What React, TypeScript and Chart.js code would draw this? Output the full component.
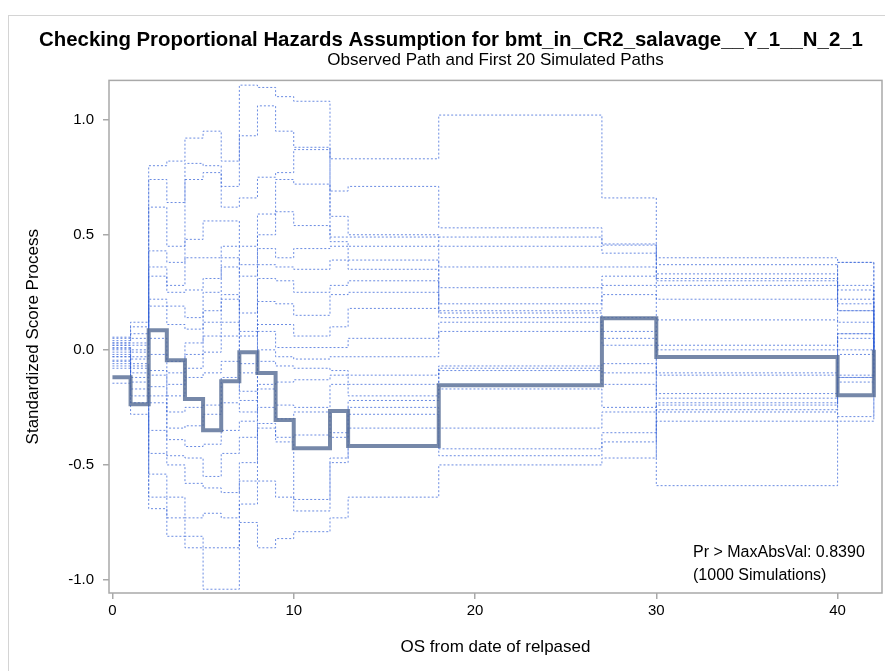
import React, { useEffect, useRef } from "react";
import { Chart, registerables } from "chart.js";

Chart.register(...registerables);

// Event times (jump points) of the score process
const times = [0, 1, 2, 3, 4, 5, 6, 7, 8, 9, 10, 12, 13, 18, 27, 30, 40, 42];
// value reached at the final time
const endValue = 0;

// Observed path: value held on each interval [times[i], times[i+1])
const observed = [-0.119, -0.236, 0.085, -0.045, -0.214, -0.349, -0.136, -0.01, -0.101, -0.305, -0.427, -0.266, -0.418, -0.154, 0.137, -0.031, -0.197];

// First 20 simulated paths
const sim01 = [0.055, 0.12, 0.8, 0.82, 0.92, 0.95, 0.82, 1.15, 1.14, 1.1, 1.08, 0.83, 0.83, 1.02, 0.66, -0.59, 0.38];
const sim02 = [0.05, 0.1, 0.74, 0.64, 0.81, 0.8, 0.71, 0.93, 1.06, 0.95, 0.88, 0.69, 0.71, 0.53, 0.46, 0.4, 0.38];
const sim03 = [0.04, 0.07, 0.62, 0.45, 0.74, 0.77, 0.62, 0.66, 0.75, 0.77, 0.87, 0.58, 0.5, 0.49, 0.455, 0.37, 0.28];
const sim04 = [0.03, 0.05, 0.43, 0.38, 0.48, 0.56, 0.56, 0.45, 0.59, 0.74, 0.72, 0.49, 0.49, 0.45, 0.42, 0.33, 0.26];
const sim05 = [0.03, 0.03, 0.36, 0.28, 0.4, 0.4, 0.45, 0.37, 0.5, 0.6, 0.54, 0.47, 0.45, 0.36, 0.36, 0.31, 0.22];
const sim06 = [0.02, 0.02, 0.32, 0.25, 0.26, 0.31, 0.4, 0.32, 0.44, 0.4, 0.44, 0.45, 0.39, 0.27, 0.32, 0.3, 0.2];
const sim07 = [0.02, 0.0, 0.22, 0.19, 0.14, 0.25, 0.36, 0.16, 0.37, 0.36, 0.35, 0.39, 0.35, 0.2, 0.28, 0.28, 0.17];
const sim08 = [0.01, -0.01, 0.19, 0.11, 0.09, 0.17, 0.24, 0.08, 0.31, 0.3, 0.25, 0.28, 0.3, 0.17, 0.24, 0.22, 0.17];
const sim09 = [0.005, -0.03, 0.05, -0.05, 0.03, 0.12, 0.22, 0.06, 0.21, 0.2, 0.15, 0.24, 0.25, 0.16, 0.14, 0.13, 0.12];
const sim10 = [0.0, -0.04, -0.02, -0.1, -0.02, 0.06, 0.12, -0.06, 0.11, 0.11, 0.06, 0.1, 0.18, 0.14, 0.08, 0.02, 0.07];
const sim11 = [-0.01, -0.06, -0.09, -0.15, -0.08, -0.01, 0.06, -0.1, 0.08, 0.01, 0.01, 0.01, 0.05, 0.12, 0.05, 0.0, 0.07];
const sim12 = [-0.02, -0.07, -0.11, -0.2, -0.12, -0.1, -0.05, -0.18, 0.0, -0.03, -0.04, -0.03, -0.03, 0.08, 0.02, -0.1, 0.05];
const sim13 = [-0.03, -0.08, -0.16, -0.27, -0.25, -0.24, -0.12, -0.22, -0.05, -0.07, -0.08, -0.09, -0.11, -0.07, -0.06, -0.11, 0.0];
const sim14 = [-0.03, -0.1, -0.2, -0.34, -0.33, -0.28, -0.23, -0.27, -0.15, -0.14, -0.13, -0.11, -0.15, -0.08, -0.1, -0.19, -0.02];
const sim15 = [-0.045, -0.12, -0.23, -0.39, -0.42, -0.41, -0.35, -0.31, -0.17, -0.24, -0.25, -0.15, -0.2, -0.09, -0.15, -0.21, -0.11];
const sim16 = [-0.05, -0.14, -0.35, -0.46, -0.47, -0.55, -0.45, -0.38, -0.25, -0.3, -0.27, -0.36, -0.22, -0.17, -0.25, -0.23, -0.12];
const sim17 = [-0.06, -0.17, -0.45, -0.5, -0.58, -0.6, -0.62, -0.49, -0.32, -0.38, -0.37, -0.38, -0.25, -0.34, -0.27, -0.24, -0.12];
const sim18 = [-0.07, -0.2, -0.54, -0.64, -0.73, -0.71, -0.73, -0.57, -0.34, -0.4, -0.65, -0.47, -0.28, -0.43, -0.36, -0.26, -0.14];
const sim19 = [-0.08, -0.23, -0.64, -0.73, -0.81, -0.86, -0.86, -0.67, -0.57, -0.64, -0.7, -0.49, -0.34, -0.46, -0.4, -0.27, -0.29];
const sim20 = [-0.145, -0.28, -0.69, -0.81, -0.86, -1.04, -1.04, -0.75, -0.86, -0.82, -0.79, -0.73, -0.64, -0.5, -0.47, -0.31, -0.31];

const simulated = [sim01, sim02, sim03, sim04, sim05, sim06, sim07, sim08, sim09, sim10, sim11, sim12, sim13, sim14, sim15, sim16, sim17, sim18, sim19, sim20];

const xTicks = [0, 10, 20, 30, 40];
const yTicks = [-1.0, -0.5, 0.0, 0.5, 1.0];

const titleText = "Checking Proportional Hazards Assumption for bmt_in_CR2_salavage__Y_1__N_2_1";
const subtitleText = "Observed Path and First 20 Simulated Paths";
const xTitle = "OS from date of relpased";
const yTitle = "Standardized Score Process";
const insetLines = ["Pr > MaxAbsVal: 0.8390", "(1000 Simulations)"];

const FONT = "'Liberation Sans', Arial, Helvetica, sans-serif";

function toPoints(vals: number[]) {
  const pts = vals.map((v, i) => ({ x: times[i], y: v }));
  pts.push({ x: times[times.length - 1], y: endValue });
  return pts;
}

const framePlugin = {
  id: "frameAndInset",
  afterDraw(chart: any) {
    const { ctx, chartArea } = chart;
    ctx.save();
    ctx.strokeStyle = "#a9a9a9";
    ctx.lineWidth = 1.5;
    ctx.strokeRect(chartArea.left, chartArea.top, chartArea.right - chartArea.left, chartArea.bottom - chartArea.top);
    ctx.fillStyle = "#000";
    ctx.font = `16px ${FONT}`;
    ctx.textAlign = "left";
    ctx.textBaseline = "middle";
    ctx.fillText(insetLines[0], 693, 553);
    ctx.fillText(insetLines[1], 693, 576);
    ctx.restore();
  },
};

export default function App() {
  const ref = useRef<HTMLCanvasElement | null>(null);

  useEffect(() => {
    if (!ref.current) return;
    const simSets = simulated.map((s, i) => ({
      label: `Simulated ${i + 1}`,
      data: toPoints(s),
      showLine: true,
      stepped: "before" as const,
      borderColor: "rgba(50, 95, 215, 0.72)",
      borderWidth: 1,
      borderDash: [2, 2],
      pointRadius: 0,
      fill: false,
      order: 1,
    }));
    const chart = new Chart(ref.current, {
      type: "scatter",
      data: {
        datasets: [
          {
            label: "Observed",
            data: toPoints(observed),
            showLine: true,
            stepped: "before" as const,
            borderColor: "rgba(84, 106, 148, 0.8)",
            borderWidth: 4,
            pointRadius: 0,
            fill: false,
            order: 0,
          },
          ...simSets,
        ],
      },
      options: {
        responsive: false,
        animation: false,
        layout: { padding: { left: 20, right: 3, top: 0, bottom: 0 } },
        plugins: {
          legend: { display: false },
          tooltip: { enabled: false },
          title: {
            display: true,
            text: titleText,
            color: "#000",
            font: { family: FONT, size: 20.4, weight: "bold", lineHeight: 1 },
            padding: { top: 30, bottom: 0 },
            fullSize: true,
          },
          subtitle: {
            display: true,
            text: subtitleText,
            color: "#000",
            font: { family: FONT, size: 17, lineHeight: 1 },
            padding: { top: 1.5, bottom: 11.5 },
            fullSize: false,
          },
        },
        scales: {
          x: {
            type: "linear",
            min: -0.19,
            max: 42.45,
            afterBuildTicks: (s: any) => {
              s.ticks = xTicks.map((v) => ({ value: v }));
            },
            afterFit: (s: any) => {
              s.height = 78;
            },
            ticks: {
              color: "#000",
              font: { family: FONT, size: 15 },
              padding: 3,
              maxRotation: 0,
              callback: (v: any) => String(v),
            },
            grid: { drawOnChartArea: false, drawTicks: true, tickLength: 6, color: "#a9a9a9", lineWidth: 1.5 },
            border: { display: false },
            title: {
              display: true,
              text: xTitle,
              color: "#000",
              font: { family: FONT, size: 17 },
              padding: { top: 0, bottom: 13 },
            },
          },
          y: {
            type: "linear",
            min: -1.0564,
            max: 1.1706,
            afterBuildTicks: (s: any) => {
              s.ticks = yTicks.map((v) => ({ value: v }));
            },
            afterFit: (s: any) => {
              s.width = 89;
            },
            ticks: {
              color: "#000",
              font: { family: FONT, size: 15 },
              padding: 9,
              callback: (v: any) => Number(v).toFixed(1),
            },
            grid: { drawOnChartArea: false, drawTicks: true, tickLength: 6, color: "#a9a9a9", lineWidth: 1.5 },
            border: { display: false },
            title: {
              display: true,
              text: yTitle,
              color: "#000",
              font: { family: FONT, size: 17 },
              padding: { top: 3, bottom: 0 },
            },
          },
        },
      },
      plugins: [framePlugin],
    });
    return () => chart.destroy();
  }, []);

  return (
    <div style={{ position: "absolute", left: 0, top: 0, width: 885, height: 671, overflow: "hidden", background: "#fff" }}>
      <div
        style={{
          position: "absolute",
          left: 8,
          top: 15,
          width: 900,
          height: 700,
          borderTop: "1px solid #d4d4d4",
          borderLeft: "1px solid #d4d4d4",
        }}
      />
      <canvas ref={ref} width={885} height={671} style={{ position: "absolute", left: 0, top: 0, width: 885, height: 671 }} />
    </div>
  );
}
